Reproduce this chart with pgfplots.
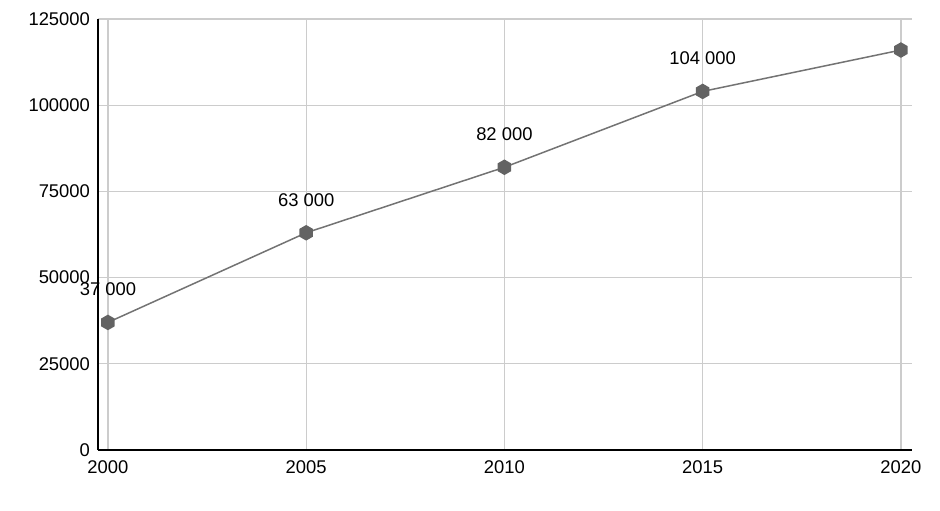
\documentclass[border=0pt]{standalone}
\usepackage{fontspec}
\setmainfont{Liberation Sans}
\usepackage{pgfplots}
\pgfplotsset{compat=1.18}
\definecolor{linegray}{HTML}{737373}
\definecolor{markgray}{HTML}{636363}
\definecolor{gridgray}{HTML}{CCCCCC}

% pointy-top hexagon mark
\pgfdeclareplotmark{hexagon}{%
  \pgfpathmoveto{\pgfqpointpolar{90}{\pgfplotmarksize}}%
  \pgfpathlineto{\pgfqpointpolar{150}{\pgfplotmarksize}}%
  \pgfpathlineto{\pgfqpointpolar{210}{\pgfplotmarksize}}%
  \pgfpathlineto{\pgfqpointpolar{270}{\pgfplotmarksize}}%
  \pgfpathlineto{\pgfqpointpolar{330}{\pgfplotmarksize}}%
  \pgfpathlineto{\pgfqpointpolar{30}{\pgfplotmarksize}}%
  \pgfpathclose
  \pgfusepathqfill}

\begin{document}
\begin{tikzpicture}
  \useasboundingbox (-49pt,-30pt) rectangle (421pt,225pt);
  \begin{axis}[
      at={(0,0)}, anchor=south west,
      scale only axis, width=407pt, height=215.5pt,
      xmin=1999.75, xmax=2020.28, ymin=0, ymax=125000,
      xtick={2000,2005,2010,2015,2020},
      ytick={0,25000,50000,75000,100000,125000},
      /pgf/number format/assume math mode=true,
      xticklabel={\pgfmathprintnumber[1000 sep={},fixed]{\tick}},
      yticklabel={\pgfmathprintnumber[1000 sep={},fixed]{\tick}},
      scaled y ticks=false,
      tick label style={font=\fontsize{9.2}{10}\selectfont, text=black},
      major tick length=0pt,
      xtick style={draw=none}, ytick style={draw=none},
      yticklabel style={xshift=-0.5pt},
      xticklabel style={yshift=-2pt},
      grid=major, grid style={gridgray, line width=0.6pt},
      axis x line*=bottom, axis y line*=left,
      axis line style={black, line width=0.75pt, -},
      clip=false,
    ]
    \addplot[linegray, line width=0.75pt,
      mark=hexagon,
      mark options={fill=markgray},
      mark size=3.9pt,
      nodes near coords, point meta=explicit symbolic,
      every node near coord/.style={font=\fontsize{9.2}{10}\selectfont,
        text=black, anchor=center, yshift=16.5pt}]
      coordinates {
        (2000,37000) [37 000]
        (2005,63000) [63 000]
        (2010,82000) [82 000]
        (2015,104000) [104 000]
        (2020,116000) [{}]
      };
  \end{axis}
\end{tikzpicture}
\end{document}
